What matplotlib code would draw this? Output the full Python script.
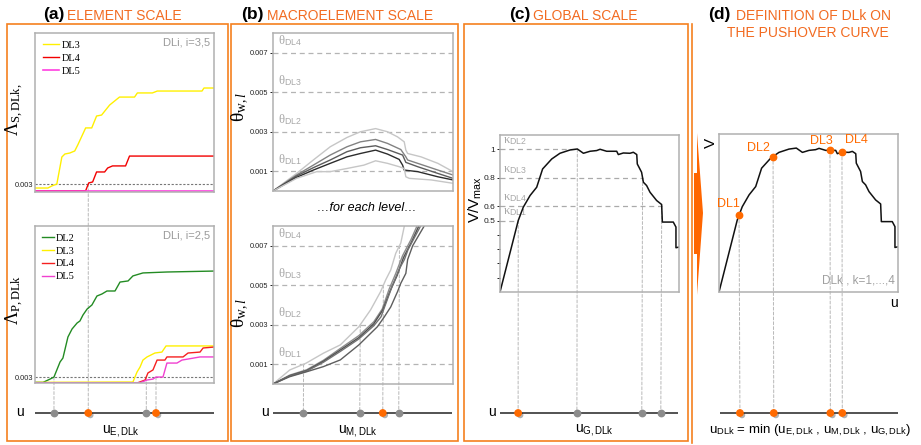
import matplotlib
matplotlib.use('Agg')
import matplotlib.pyplot as plt
import matplotlib.patheffects as pe
from matplotlib.patches import Rectangle, Polygon, ConnectionPatch
import numpy as np

W, H = 921, 445

plt.rcParams['font.family'] = ['Liberation Sans', 'DejaVu Sans']
plt.rcParams['mathtext.fontset'] = 'custom'
plt.rcParams['mathtext.rm'] = 'Liberation Serif'
plt.rcParams['mathtext.it'] = 'Liberation Serif:italic'
plt.rcParams['mathtext.bf'] = 'Liberation Serif:bold'
plt.rcParams['mathtext.sf'] = 'Liberation Sans'

ORANGE = '#F5801F'
TXT_OR = '#F26B21'
DOT_OR = '#FF6A00'
DOT_GR = '#8c8c8c'
FRAME = '#b0b0b0'
LGRAY = '#a8a8a8'

# ---------------------------------------------------------------------------
# DATA  (x = % of the displacement range, same for every panel)
# ---------------------------------------------------------------------------

# (a) element scale, y = % of axis height; 0.003 threshold drawn at these levels
a_thr_S = 5.0
a_thr_P = 3.8

aS_dl3_x = [0, 7.2, 9.4, 12.2, 15, 16.7, 19.4, 22.2, 23.9, 28.3, 31.7, 34.4, 37.2,
            41.7, 47.2, 55.6, 57.2, 65.6, 68.3, 93.3, 94.4, 100]
aS_dl3_y = [2.5, 2.5, 3.8, 5.0, 22, 23.9, 24.5, 25.8, 29.6, 40.3, 40.3, 47.8, 48.4,
            54.7, 59.7, 59.7, 62.3, 62.3, 63.5, 63.5, 65.4, 65.4]
aS_dl4_x = [0, 28.3, 30, 32.2, 34.4, 38.9, 40.6, 43.3, 50.6, 52.8, 100]
aS_dl4_y = [0.8, 0.8, 5.7, 6.3, 12.6, 12.6, 15.1, 16.4, 16.4, 22.6, 22.6]
aS_dl5_x = [0, 100]
aS_dl5_y = [0.8, 0.8]

aP_dl2_x = [0, 4.5, 8.4, 10.6, 14, 15.6, 18.4, 20.7, 23.5, 25.1, 26.8, 29.1, 31.8,
            34.6, 37.4, 40.2, 44.7, 47.5, 52, 54.7, 60.3, 73.7, 100]
aP_dl2_y = [0.4, 0.4, 2.5, 3.8, 13.4, 15.9, 29.3, 34.4, 38.2, 39.5, 43.3, 47.1, 49.7,
            55.4, 56.7, 58.6, 58.6, 64.3, 65, 68.2, 70.1, 70.7, 71.3]
aP_dl3_x = [0, 48.6, 54.7, 57, 58.7, 60.3, 62.6, 67, 70.9, 73.2, 100]
aP_dl3_y = [0.4, 0.6, 0.6, 7, 10.2, 14.6, 16.6, 19.1, 19.7, 23.6, 23.6]
aP_dl4_x = [0, 57.5, 61.5, 63.1, 65.9, 68.2, 72.6, 73.7, 82.7, 85.5, 92.2, 93.9, 100]
aP_dl4_y = [0.2, 0.2, 1.9, 6.4, 8.3, 14.6, 14.6, 16.6, 16.6, 19.1, 19.7, 22.3, 22.9]
aP_dl5_x = [0, 58.7, 62.6, 65.9, 67.6, 71.5, 73.7, 79.3, 82.1, 92.2, 100]
aP_dl5_y = [0.2, 0.2, 1.9, 2.5, 3.8, 3.8, 12.7, 12.7, 14.6, 16.6, 16.6]

# (b) macroelement scale, drift in 1e-3
b_levels = [1, 3, 5, 7]
b_level_names = ['DL1', 'DL2', 'DL3', 'DL4']

bt_x = [
    [0, 13.1, 22.4, 31.8, 41.1, 48.6, 57, 63.6, 69.2, 72.9, 73.8, 74.8, 82.2, 91.6, 100],
    [0, 13.1, 22.4, 31.8, 41.1, 48.6, 57, 63.6, 71, 73.8, 74.8, 80.4, 91.6, 100],
    [0, 13.1, 22.4, 31.8, 41.1, 48.6, 57, 63.6, 72, 73.8, 80.4, 91.6, 100],
    [0, 13.1, 22.4, 31.8, 41.1, 48.6, 57, 63.6, 70.1, 72, 72.9, 80.4, 91.6, 100],
    [0, 13.1, 24.3, 31.8, 41.1, 50.5, 57, 63.6, 70.1, 72.9, 73.8, 75.7, 87.9, 100],
]
bt_y = [
    [0, 0.89, 1.57, 2.24, 2.71, 3.0, 3.16, 3.0, 2.74, 2.49, 2.07, 1.9, 1.73, 1.4, 0.98],
    [0, 0.81, 1.31, 1.82, 2.24, 2.49, 2.61, 2.41, 2.1, 1.73, 1.57, 1.4, 1.06, 0.81],
    [0, 0.76, 1.18, 1.57, 1.99, 2.19, 2.29, 2.1, 1.82, 1.45, 1.23, 0.89, 0.64],
    [0, 0.69, 1.06, 1.4, 1.73, 1.9, 2.07, 1.87, 1.6, 1.31, 1.06, 0.98, 0.72, 0.56],
    [0, 0.64, 0.98, 0.98, 1.14, 1.31, 1.53, 1.4, 1.23, 1.14, 0.72, 0.64, 0.56, 0.39],
]
bt_colors = ['#c6c6c6', '#828282', '#5c5c5c', '#2c2c2c', '#c6c6c6']

bb_x = [
    [0, 9.3, 18.3, 28, 37.4, 47.7, 54.2, 59.8, 62.6, 65.4, 68.2, 71, 72.9],
    [0, 9.3, 18.7, 28, 37.4, 47.7, 56, 60.7, 64.5, 68.2, 72, 76.6, 80],
    [0, 9.3, 18.7, 28, 37.4, 47.7, 56, 61, 65, 69, 72.5, 77, 81],
    [0, 9.3, 18.7, 28, 37.4, 47.7, 56, 60, 62, 66, 70, 73, 75, 82],
    [0, 9.3, 18.7, 28, 37.4, 47.7, 58, 61.7, 65.4, 69.2, 71, 73.8, 74.8, 77.6, 84],
]
bb_y = [
    [0, 0.71, 1.05, 1.56, 1.98, 2.9, 3.75, 4.68, 5.27, 5.77, 6.62, 7.14, 7.97],
    [0, 0.45, 0.72, 1.2, 1.8, 2.45, 3.15, 3.8, 4.8, 5.6, 6.5, 7.3, 8.0],
    [0, 0.42, 0.68, 1.15, 1.72, 2.35, 3.05, 3.75, 4.7, 5.5, 6.4, 7.2, 8.0],
    [0, 0.4, 0.65, 1.1, 1.65, 2.28, 2.95, 3.4, 3.9, 4.9, 5.8, 6.3, 6.8, 8.0],
    [0, 0.37, 0.62, 0.88, 1.22, 1.98, 2.9, 3.38, 3.9, 4.68, 5.1, 5.6, 6.3, 7.0, 8.0],
]
bb_colors = ['#c6c6c6', '#8c8c8c', '#4e4e4e', '#727272', '#5e5e5e']
b_dot_colors = [DOT_GR, DOT_GR, DOT_OR, DOT_GR]

# (c) global scale, pushover curve V/Vmax (also used in d)
push_x = [0, 10.2, 13.0, 16.8, 20.5, 23.8, 28.9, 33.5, 39.1, 43.2, 46.6, 50.3, 54.0,
          55.9, 59.6, 65.2, 66.1, 68.9, 72.6, 74.5, 76.4, 76.7, 79.1, 80.1, 81.9,
          83.8, 87.5, 90.3, 90.7, 96.8, 98.3, 98.3, 100]
push_y = [0, 0.501, 0.594, 0.676, 0.734, 0.862, 0.932, 0.972, 0.995, 1.002, 0.972,
          0.986, 0.991, 1.0, 0.986, 0.986, 0.963, 0.974, 0.972, 0.979, 0.963, 0.897,
          0.839, 0.769, 0.746, 0.699, 0.641, 0.613, 0.490, 0.490, 0.455, 0.310, 0.315]
kappa_levels = [0.5, 1.0, 0.8, 0.6]
kappa_names = ['DL1', 'DL2', 'DL3', 'DL4']
c_dot_colors = [DOT_OR, DOT_GR, DOT_GR, DOT_GR]

# (d) damage levels on the pushover curve
u_DL = [11.2, 30.2, 62.0, 68.7]
DL_names = ['DL1', 'DL2', 'DL3', 'DL4']
DL_offsets = [(-11, 11), (-15, 9), (-9, 9), (14, 12)]


# ---------------------------------------------------------------------------
def first_cross(x, y, level):
    x = np.asarray(x, float)
    y = np.asarray(y, float)
    i = np.nonzero(y >= level)[0][0]
    if i == 0:
        return x[0]
    return np.interp(level, [y[i - 1], y[i]], [x[i - 1], x[i]])


def last_cross(x, y, level):
    x = np.asarray(x, float)
    y = np.asarray(y, float)
    i = np.nonzero(y >= level)[0][-1]
    if i == len(y) - 1:
        return x[-1]
    return np.interp(level, [y[i + 1], y[i]], [x[i + 1], x[i]])


fig = plt.figure(figsize=(W / 100, H / 100), dpi=100)
bg = fig.add_axes([0, 0, 1, 1], zorder=-2)
bg.set_xlim(0, W)
bg.set_ylim(H, 0)
bg.axis('off')


def px_axes(x0, y0, x1, y1):
    ax = fig.add_axes([x0 / W, 1 - y1 / H, (x1 - x0) / W, (y1 - y0) / H])
    ax.patch.set_visible(False)
    return ax


def frame(ax):
    for s in ax.spines.values():
        s.set_color(FRAME)
        s.set_linewidth(1.1)
    ax.set_xticks([])
    ax.tick_params(axis='y', length=2, width=0.7, pad=1.5, labelsize=5.3, colors='#222')


shadow = [pe.SimplePatchShadow(offset=(1.5, -1.5), shadow_rgbFace='#000000', alpha=0.3),
          pe.Normal()]


def u_axis(x0, x1, dots, colors):
    ax = px_axes(x0, 403, x1, 423)
    ax.set_xlim(0, 100)
    ax.set_ylim(-1, 1)
    ax.axis('off')
    ax.plot([0, 100], [0, 0], color='#444444', lw=1.3, solid_capstyle='butt')
    for u, c in zip(dots, colors):
        ax.plot(u, 0, 'o', ms=4.6, color=c, mec=c, clip_on=False, zorder=3,
                path_effects=shadow if c == DOT_OR else None)
    return ax


def drop(axA, x, y, axU, clr='#b8b8b8'):
    con = ConnectionPatch(xyA=(x, y), coordsA=axA.transData, xyB=(x, 0),
                          coordsB=axU.transData, color=clr, lw=0.7,
                          linestyle=(0, (3, 2)), zorder=-1)
    fig.add_artist(con)


# ---------------------------------------------------------------------------
# frames, titles, arrow
for (x0, x1) in [(7, 227.5), (231, 458), (464, 688)]:
    bg.add_patch(Rectangle((x0, 24), x1 - x0, 417, fill=False, ec=ORANGE, lw=1.2))
bg.plot([692, 692], [24, 443], color=ORANGE, lw=1.2)
bg.add_patch(Polygon([(697, 133), (703, 213), (697, 295), (697, 254), (694, 254),
                      (694, 173), (697, 173)], closed=True, fc='#FF6600', ec='none'))

titles = [(64, 67, '(a)', 'ELEMENT SCALE'), (264, 267, '(b)', 'MACROELEMENT SCALE'),
          (530, 533, '(c)', 'GLOBAL SCALE'), (730, 736, '(d)', 'DEFINITION OF DLk ON')]
for xr, xl, lab, name in titles:
    bg.text(xr, 15, lab, ha='right', va='center', fontsize=12.5, fontweight='bold')
    bg.text(xl, 16, name, ha='left', va='center', fontsize=10, color=TXT_OR)
bg.text(808, 33, 'THE PUSHOVER CURVE', ha='center', va='center', fontsize=10, color=TXT_OR)

# ---------------------------------------------------------------------------
# (a) element scale
axS = px_axes(35, 33, 214, 192)
frame(axS)
axS.set_xlim(0, 100)
axS.set_ylim(0, 100)
axS.plot(aS_dl3_x, aS_dl3_y, color='#FFF000', lw=1.0, label='DL3')
axS.plot(aS_dl4_x, aS_dl4_y, color='#F20000', lw=1.0, label='DL4')
axS.plot(aS_dl5_x, aS_dl5_y, color='#FF40E0', lw=1.2, label='DL5')
axS.axhline(a_thr_S, color='#777777', lw=0.8, ls=(0, (2, 1.5)), zorder=0)
axS.set_yticks([a_thr_S])
axS.set_yticklabels(['0.003'])
axS.tick_params(axis='y', length=0, pad=1)
axS.legend(loc='upper left', frameon=False, prop={'family': 'Liberation Serif', 'size': 7.5},
           handlelength=1.6, handletextpad=0.2, labelspacing=0.35, borderaxespad=0.35)
axS.text(0.98, 0.94, 'DLi, i=3,5', transform=axS.transAxes, ha='right', va='center',
         fontsize=8, color='#9a9a9a')

axP = px_axes(35, 226, 214, 383)
frame(axP)
axP.set_xlim(0, 100)
axP.set_ylim(0, 100)
axP.plot(aP_dl2_x, aP_dl2_y, color='#238B23', lw=1.0, label='DL2')
axP.plot(aP_dl3_x, aP_dl3_y, color='#FFF000', lw=1.0, label='DL3')
axP.plot(aP_dl4_x, aP_dl4_y, color='#F52020', lw=1.0, label='DL4')
axP.plot(aP_dl5_x, aP_dl5_y, color='#F040D0', lw=1.0, label='DL5')
axP.axhline(a_thr_P, color='#777777', lw=0.8, ls=(0, (2, 1.5)), zorder=0)
axP.set_yticks([a_thr_P])
axP.set_yticklabels(['0.003'])
axP.tick_params(axis='y', length=0, pad=1)
axP.legend(loc='upper left', frameon=False, prop={'family': 'Liberation Serif', 'size': 7.5},
           handlelength=1.1, handletextpad=0.15, labelspacing=0.35, borderaxespad=0.3)
axP.text(0.98, 0.94, 'DLi, i=2,5', transform=axP.transAxes, ha='right', va='center',
         fontsize=8, color='#9a9a9a')

uS = first_cross(aS_dl4_x, aS_dl4_y, a_thr_S)
uP = [first_cross(aP_dl2_x, aP_dl2_y, a_thr_P),
      first_cross(aP_dl4_x, aP_dl4_y, a_thr_P),
      first_cross(aP_dl5_x, aP_dl5_y, a_thr_P)]
uax_a = u_axis(35, 214, [uP[0], uS, uP[1], uP[2]], [DOT_GR, DOT_OR, DOT_GR, DOT_OR])
drop(axS, uS, a_thr_S, uax_a)
for u in uP:
    drop(axP, u, a_thr_P, uax_a)

bg.text(15, 110, r'$\Lambda_{\mathrm{S,DLk},}$', rotation=90, ha='center', va='center', fontsize=13)
bg.text(15, 300, r'$\Lambda_{\mathrm{P,DLk}}$', rotation=90, ha='center', va='center', fontsize=13)
bg.text(20, 412, 'u', ha='center', va='center', fontsize=10)
bg.text(121, 431, r'u$_{\mathsf{E,DLk}}$', ha='center', va='center', fontsize=10)

# ---------------------------------------------------------------------------
# (b) macroelement scale
def theta_axes(y0, y1, xs, ys, colors):
    ax = px_axes(273, y0, 453, y1)
    frame(ax)
    ax.set_xlim(0, 100)
    ax.set_ylim(0, 8)
    ax.set_yticks(b_levels)
    ax.set_yticklabels([f'{v / 1000:.3f}' for v in b_levels])
    for v, nm in zip(b_levels, b_level_names):
        ax.axhline(v, color='#b4b4b4', lw=0.9, ls=(0, (4, 3)), zorder=0)
        ax.text(2.5, v + 0.22, r'$\mathrm{θ}_{\mathsf{' + nm + '}}$', fontsize=9,
                color=LGRAY, ha='left', va='bottom')
    for x, y, c in zip(xs, ys, colors):
        ax.plot(x, y, color=c, lw=1.0)
    return ax


axT = theta_axes(33, 191, bt_x, bt_y, bt_colors)
axB = theta_axes(226, 384, bb_x, bb_y, bb_colors)
uM = [first_cross(bb_x[0], bb_y[0], v) for v in b_levels]
uax_b = u_axis(273, 452, uM, b_dot_colors)
for u, v in zip(uM, b_levels):
    drop(axB, u, v, uax_b)

bg.text(240, 107, r'$\mathrm{θ}_{\mathrm{w},l}$', rotation=90, ha='center', va='center', fontsize=14)
bg.text(240, 313, r'$\mathrm{θ}_{\mathrm{w},l}$', rotation=90, ha='center', va='center', fontsize=14)
bg.text(367, 208, '\u2026for each level\u2026', ha='center', va='center', fontsize=9, style='italic')
bg.text(265, 412, 'u', ha='center', va='center', fontsize=10)
bg.text(358, 431, r'u$_{\mathsf{M,DLk}}$', ha='center', va='center', fontsize=10)

# ---------------------------------------------------------------------------
# (c) global scale
axC = px_axes(500, 135, 679, 292)
frame(axC)
axC.set_xlim(0, 100)
axC.set_ylim(0, 1.1)
axC.set_yticks([0.1, 0.2, 0.3, 0.4, 0.5, 0.6, 0.8, 1.0])
axC.set_yticklabels(['', '', '', '', '0.5', '0.6', '0.8', '1'])
axC.tick_params(axis='y', labelsize=6)
axC.plot(push_x, push_y, color='#111111', lw=1.1)

uG = [first_cross(push_x, push_y, kappa_levels[0]),
      push_x[int(np.argmax(push_y))],
      last_cross(push_x, push_y, kappa_levels[2]),
      last_cross(push_x, push_y, kappa_levels[3])]
for u, v, nm in zip(uG, kappa_levels, kappa_names):
    axC.plot([0, u], [v, v], color='#aaaaaa', lw=0.9, ls=(0, (4, 3)), zorder=0)
    axC.text(1.5, v + 0.015, r'$\mathrm{κ}_{\mathsf{' + nm + '}}$', fontsize=9,
             color=LGRAY, ha='left', va='bottom', zorder=0)
uax_c = u_axis(500, 678, uG, c_dot_colors)
for u, v in zip(uG, kappa_levels):
    drop(axC, u, v, uax_c)

bg.text(475, 200, r'V/V$_{\mathsf{max}}$', rotation=90, ha='center', va='center', fontsize=11)
bg.text(492, 412, 'u', ha='center', va='center', fontsize=10)
bg.text(594, 430, r'u$_{\mathsf{G,DLk}}$', ha='center', va='center', fontsize=10)

# ---------------------------------------------------------------------------
# (d) definition of DLk on the pushover curve
axD = px_axes(719, 134, 898, 292)
frame(axD)
axD.set_yticks([])
axD.set_xlim(0, 100)
axD.set_ylim(0, 1.1)
axD.plot(push_x, push_y, color='#111111', lw=1.1)
v_DL = np.interp(u_DL, push_x, push_y)
for u, v, nm, off in zip(u_DL, v_DL, DL_names, DL_offsets):
    axD.plot(u, v, 'o', ms=4.6, color=DOT_OR, zorder=4)
    axD.annotate(nm, (u, v), xytext=off, textcoords='offset pixels', ha='center',
                 va='center', fontsize=9, color=DOT_OR)
axD.text(0.985, 0.07, 'DLk , k=1,...,4', transform=axD.transAxes, ha='right',
         va='center', fontsize=8.5, color='#a0a0a0')
uax_d = u_axis(720, 898, u_DL, [DOT_OR] * 4)
for u, v in zip(u_DL, v_DL):
    drop(axD, u, v, uax_d)

bg.text(711, 143, 'V', rotation=90, ha='center', va='center', fontsize=11)
bg.text(894, 303, 'u', ha='center', va='center', fontsize=10)
bg.text(810, 430, r'u$_{\mathsf{DLk}}$ = min (u$_{\mathsf{E,DLk}}$ , u$_{\mathsf{M,DLk}}$ , '
                  r'u$_{\mathsf{G,DLk}}$)', ha='center', va='center', fontsize=9.5)

fig.savefig('out.png', dpi=100)
